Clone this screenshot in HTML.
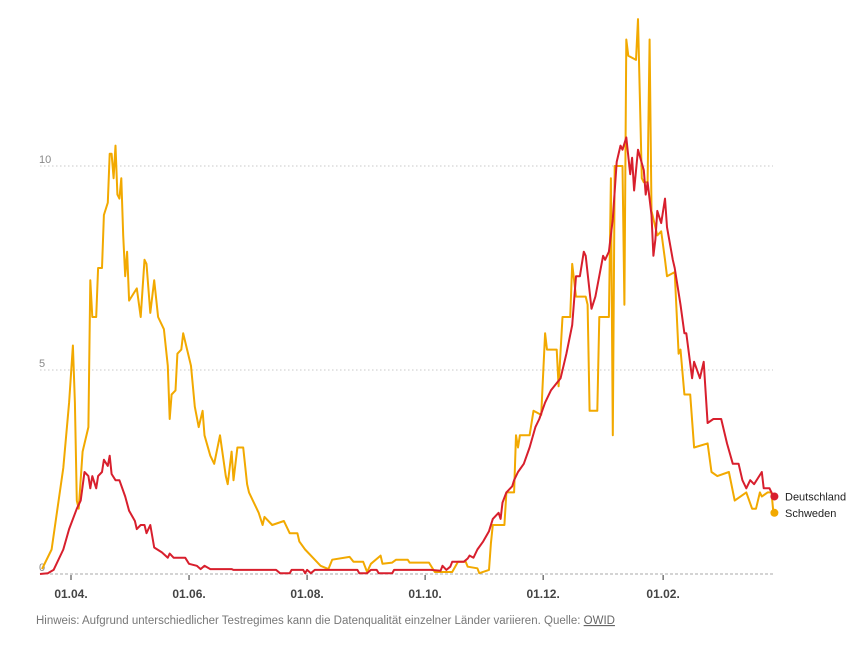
<!DOCTYPE html>
<html><head><meta charset="utf-8">
<style>
html,body{margin:0;padding:0;background:#fff;}
body{width:863px;height:640px;overflow:hidden;font-family:"Liberation Sans",sans-serif;}
svg text{font-family:"Liberation Sans",sans-serif;}
</style></head>
<body>
<svg id="chart" width="863" height="640" xmlns="http://www.w3.org/2000/svg"></svg>
<script>
// Data: day offsets relative to 01.04.2020, values per 100k (7-day avg)
const deDays=[-16,-12,-9,-4,-1,3,5,7,9,10,11,13,14,16,17,19,20,21,23,25,28,30,33,34,36,38,39,41,43,47,50,51,53,59,61,65,67,69,72,83,84,106,108,113,114,120,121,122,124,126,148,149,153,155,158,159,166,167,186,191,192,194,196,197,203,205,206,208,210,213,216,218,221,222,223,225,228,229,231,234,237,240,242,245,248,253,256,259,261,263,265,266,269,271,275,276,278,280,282,284,285,287,289,290,291,293,296,297,298,300,301,302,303,305,307,308,311,312,315,317,318,321,322,325,327,329,332,334,336,339,342,345,347,349,351,353,357,358,361,363];
const deValues=[0,0.02,0.1,0.6,1.1,1.6,1.8,2.5,2.4,2.1,2.4,2.1,2.4,2.5,2.8,2.65,2.9,2.45,2.3,2.3,1.9,1.55,1.3,1.1,1.2,1.2,1.0,1.2,0.65,0.53,0.4,0.5,0.4,0.4,0.25,0.2,0.12,0.2,0.12,0.12,0.1,0.1,0.02,0.02,0.1,0.1,0.02,0.1,0.02,0.1,0.1,0.02,0.02,0.1,0.1,0.02,0.02,0.1,0.1,0.08,0.2,0.1,0.18,0.3,0.3,0.38,0.45,0.4,0.6,0.8,1.05,1.35,1.5,1.35,1.75,2.0,2.15,2.3,2.5,2.7,3.1,3.6,3.8,4.2,4.5,4.8,5.4,6.1,7.3,7.3,7.9,7.8,6.5,6.8,7.8,7.7,7.9,8.7,10.1,10.5,10.4,10.7,9.8,10.2,9.4,10.4,9.9,9.3,9.6,8.8,7.8,8.2,8.9,8.6,9.2,8.5,7.7,7.5,6.6,5.9,5.9,4.8,5.2,4.8,5.2,3.7,3.8,3.8,3.8,3.2,2.7,2.7,2.3,2.1,2.3,2.2,2.5,2.1,2.1,1.9];
const seDays=[-15,-10,-4,-1,1,2,3,4,6,9,10,11,13,14,16,17,19,20,21,22,23,24,25,26,27,28,29,30,34,36,38,39,41,43,45,48,50,51,52,54,55,57,58,60,62,64,66,68,69,72,74,77,80,81,83,84,86,89,91,92,97,99,100,104,110,113,117,118,121,125,129,133,135,144,146,151,153,155,160,161,166,168,174,175,185,188,197,200,204,205,210,211,216,217,218,224,225,229,230,231,232,237,239,243,245,246,251,252,254,258,259,261,266,267,268,272,273,278,279,280,281,285,286,287,288,292,293,295,296,298,299,300,303,305,307,308,312,314,315,317,320,322,329,331,334,340,343,349,352,354,356,357,360,362,363];
const seValues=[0.12,0.6,2.6,4.2,5.6,4.2,1.8,1.6,3.0,3.6,7.2,6.3,6.3,7.5,7.5,8.8,9.1,10.3,10.3,9.7,10.5,9.3,9.2,9.7,8.3,7.3,7.9,6.7,7.0,6.3,7.7,7.6,6.4,7.2,6.3,6.0,5.1,3.8,4.4,4.5,5.4,5.5,5.9,5.5,5.1,4.1,3.6,4.0,3.4,2.9,2.7,3.4,2.4,2.2,3.0,2.3,3.1,3.1,2.2,2.0,1.5,1.2,1.4,1.2,1.3,1.0,1.0,0.8,0.6,0.4,0.2,0.12,0.35,0.42,0.3,0.3,0.05,0.25,0.45,0.25,0.28,0.35,0.35,0.28,0.28,0.05,0.05,0.3,0.3,0.18,0.14,0.02,0.1,0.75,1.2,1.2,2.0,2.0,3.4,3.1,3.4,3.4,4.0,3.9,5.9,5.5,5.5,4.6,6.3,6.3,7.6,6.8,6.8,6.6,4.0,4.0,6.3,6.3,9.7,3.4,10.0,10.0,6.6,13.1,12.7,12.6,13.6,9.7,9.6,9.6,13.1,8.9,8.3,8.4,7.7,7.3,7.4,5.4,5.5,4.4,4.4,3.1,3.2,2.5,2.4,2.5,1.8,2.0,1.6,1.6,2.0,1.9,2.0,2.0,1.5];
const yTicks=[0,5,10];
const yTickLabels=["0","5","10"];
const xTickDays=[0,61,122,183,244,306];
const xTickLabels=["01.04.","01.06.","01.08.","01.10.","01.12.","01.02."];
const seriesNames=["Deutschland","Schweden"];

const NS="http://www.w3.org/2000/svg";
const svg=document.getElementById('chart');
const X0=71, PXD=1.935, Y0=574, PXV=40.8;
function xs(d){return X0+d*PXD;}
function ys(v){return Y0-v*PXV;}
function mk(tag,attrs,parent){const e=document.createElementNS(NS,tag);for(const k in attrs)e.setAttribute(k,attrs[k]);(parent||svg).appendChild(e);return e;}

// grid
yTicks.forEach((t,i)=>{
  if(t>0){
    const g=mk('line',{x1:40,x2:773,y1:ys(t),y2:ys(t),stroke:'#c8c8c8','stroke-width':1,'stroke-dasharray':'1.5,2.5'});
    
    
  }
  const l=mk('text',{x:39,y:ys(t)-3,'font-size':11,fill:'#888'});
  l.textContent=yTickLabels[i];
  
  
});
const base=mk('line',{x1:40,x2:775,y1:Y0,y2:Y0,stroke:'#aaa','stroke-width':1,'stroke-dasharray':'3,2'});


xTickDays.forEach((d,i)=>{
  const t=mk('line',{x1:xs(d),x2:xs(d),y1:Y0+1,y2:Y0+6,stroke:'#333','stroke-width':1});
  
  
  const l=mk('text',{x:xs(d),y:598,'font-size':12,'font-weight':'bold',fill:'#444','text-anchor':'middle'});
  l.textContent=xTickLabels[i];
  
  
});
function line(days,vals,color,name){
  let d='';
  days.forEach((dd,i)=>{d+=(i?'L':'M')+xs(dd).toFixed(1)+','+ys(vals[i]).toFixed(1);});
  const p=mk('path',{d:d,fill:'none',stroke:color,'stroke-width':2,'stroke-linejoin':'round'});
  
  
}
line(seDays,seValues,'#f2a900','line-schweden');
line(deDays,deValues,'#d81f2d','line-deutschland');
// end dots and legend
const dd=mk('circle',{cx:xs(deDays[deDays.length-1])+1,cy:ys(deValues[deValues.length-1]),r:4,fill:'#d81f2d'});


const sd=mk('circle',{cx:xs(seDays[seDays.length-1])+1,cy:ys(seValues[seValues.length-1]),r:4,fill:'#f2a900'});


const t1=mk('text',{x:785,y:ys(deValues[deValues.length-1])+4,'font-size':11,fill:'#222'});
t1.textContent=seriesNames[0];


const t2=mk('text',{x:785,y:ys(seValues[seValues.length-1])+4,'font-size':11,fill:'#222'});
t2.textContent=seriesNames[1];


// footnote
const fn=mk('text',{x:36,y:624,'font-size':11.5,fill:'#777'});


fn.textContent='Hinweis: Aufgrund unterschiedlicher Testregimes kann die Datenqualität einzelner Länder variieren. Quelle: ';
const a=mk('tspan',{'text-decoration':'underline',fill:'#666'},fn);
a.textContent='OWID';


</script>
</body></html>
